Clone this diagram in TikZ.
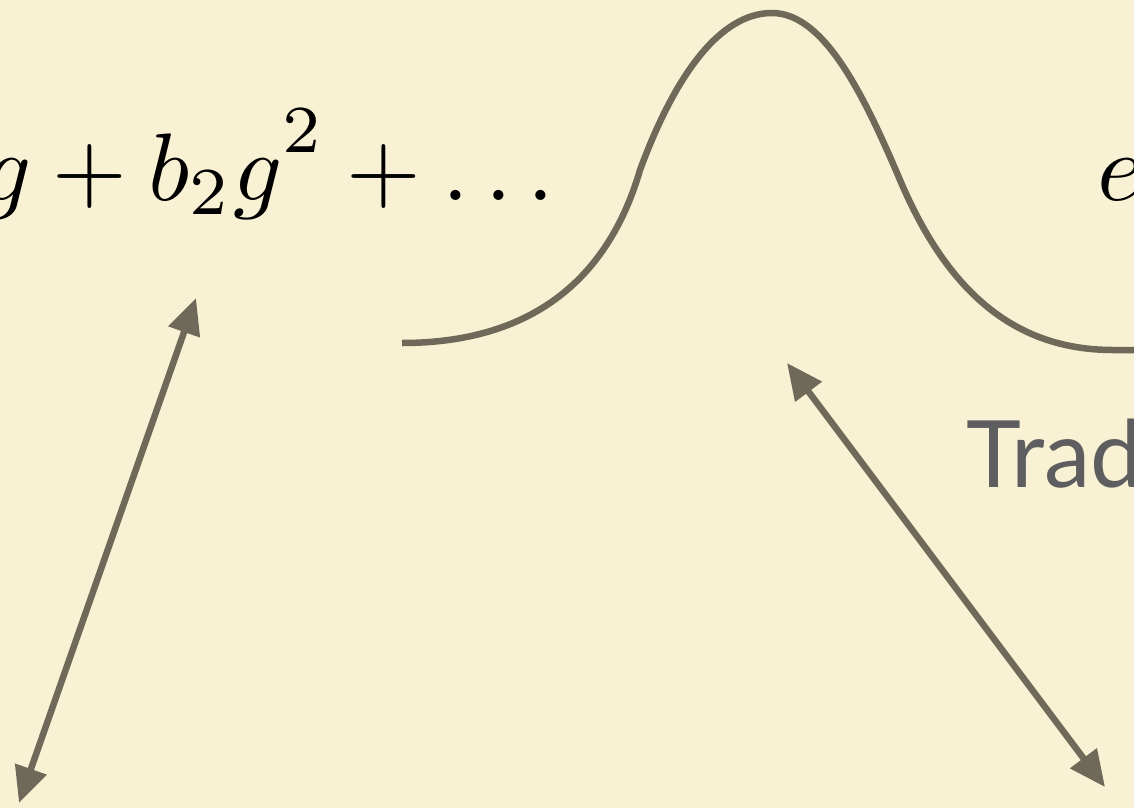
\documentclass[tikz,border=0pt]{standalone}
\usepackage{graphicx}
\usepackage{fontspec}
\newfontfamily\slidefont{Lato}
\usetikzlibrary{arrows.meta}
\definecolor{paper}{HTML}{F9F1D3}
\definecolor{ink}{HTML}{6E6959}
\definecolor{labelgray}{HTML}{5E5E60}
\newcommand{\bigmath}[1]{\scalebox{9.6}{$#1$}}
\begin{document}
\begin{tikzpicture}[x=1pt, y=-1pt,
  mathtext/.style={inner sep=0pt, font=\normalsize},
  pairarrow/.style={draw=ink, line width=6.5pt, {Triangle[length=36pt, width=32pt]}-{Triangle[length=36pt, width=32pt]}},
  curveline/.style={draw=ink, line width=6.5pt}]
\useasboundingbox (0,0) rectangle (1134,808);
\fill[paper] (0,0) rectangle (1134,808);
\node[mathtext, anchor=base west] (series) at (-18,200) {\bigmath{g+b_2g^{\raisebox{1.3pt}{$\scriptstyle 2$}}+\dots}};
\node[mathtext, anchor=base west] (expo) at (1097,200) {\bigmath{e}};
\node[inner sep=0pt, anchor=base west, text=labelgray, font=\slidefont\fontsize{93}{110}\selectfont] (trad) at (966,487) {Trad};
% bell shaped curve
\draw[curveline] (402,343) .. controls (520,343) and (605,290) .. (640,170)
  .. controls (675,75) and (720,13) .. (772,13)
  .. controls (825,13) and (865,98) .. (900,180)
  .. controls (945,286) and (1010,350) .. (1113,350) -- (1140,350);
\coordinate (seriesTip) at (196,298);
\coordinate (leftEnd) at (19,803);
\coordinate (peakTip) at (787,363);
\coordinate (rightEnd) at (1105,787);
\draw[pairarrow] (leftEnd) -- (seriesTip);
\draw[pairarrow] (peakTip) -- (rightEnd);
\end{tikzpicture}
\end{document}
